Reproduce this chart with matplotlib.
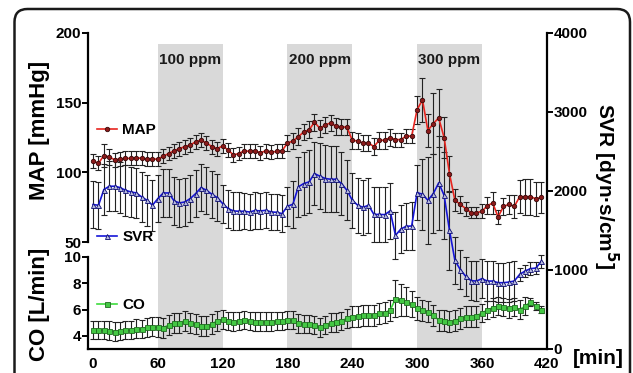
import matplotlib
matplotlib.use("Agg")
import matplotlib.pyplot as plt
from matplotlib.patches import FancyBboxPatch
import numpy as np

plt.rcParams['font.family'] = ['Liberation Sans', 'DejaVu Sans']
plt.rcParams['font.weight'] = 'bold'
plt.rcParams['mathtext.default'] = 'bf'

# ---------------- data ----------------
time_min = list(range(0, 420, 5))

map_mean = [108, 106.5, 112, 111, 109, 109.5, 110, 110, 110.5, 110, 109.5, 109.5,
            109.5, 111.5, 113.5, 115.5, 117, 118.5, 119.5, 122, 123, 121, 118.5, 117,
            119, 116, 112.5, 113.5, 115.5, 115, 115.5, 114, 115.5, 114.5, 115, 115.5,
            121, 122.5, 125.5, 129, 130.5, 136, 131.5, 134, 135.5, 133, 132.5, 132.5,
            123, 122.5, 121, 121, 118.5, 123, 123, 125, 123.5, 123.5, 126, 126,
            145, 152, 130, 135, 139, 125, 99, 80, 77, 74, 71, 71,
            72, 76, 78, 68, 75.5, 77, 75.5, 82.5, 82.5, 82.5, 81, 82]
map_sd = [5, 5, 8, 6, 5, 5, 5, 5, 5, 5, 5, 5,
          5, 5, 5, 5, 5, 5, 5, 5, 5, 5, 5, 5,
          5, 5, 5, 5, 5, 5, 5, 5, 5, 5, 5, 5,
          6, 6, 6, 6, 6, 6, 6, 6, 6, 6, 6, 6,
          6, 6, 6, 6, 6, 6, 6, 6, 5, 5, 5, 5,
          10, 16, 12, 22, 21, 15, 13, 8, 6, 5, 4, 4,
          5, 6, 8, 5, 6, 7, 8, 12, 13, 13, 12, 11]

svr_mean = [1825, 1816, 2015, 2057, 2057, 2040, 2006, 1985, 1972, 1921, 1879, 1816,
            1901, 1972, 1972, 1871, 1845, 1858, 1901, 1964, 2040, 2006, 1955, 1913,
            1837, 1774, 1744, 1740, 1740, 1730, 1750, 1744, 1752, 1731, 1727, 1710,
            1803, 1829, 2049, 2091, 2112, 2218, 2184, 2155, 2146, 2146, 2091, 2006,
            1880, 1816, 1790, 1816, 1700, 1700, 1697, 1744, 1435, 1515, 1550, 1553,
            1977, 1955, 1879, 1964, 2099, 1943, 1498, 1117, 1000, 915, 860, 855,
            885, 855, 855, 834, 834, 842, 855, 940, 982, 1012, 1020, 1105]
svr_sd = [300, 300, 320, 320, 320, 320, 320, 320, 320, 320, 320, 320,
          300, 300, 300, 300, 300, 300, 300, 300, 300, 300, 300, 300,
          240, 240, 240, 240, 230, 230, 230, 230, 230, 230, 230, 230,
          250, 300, 380, 400, 400, 400, 420, 420, 420, 420, 400, 380,
          350, 350, 350, 350, 350, 350, 350, 350, 300, 300, 300, 300,
          350, 450, 550, 500, 600, 550, 500, 300, 250, 250, 250, 250,
          250, 250, 250, 250, 250, 250, 250, 80, 80, 80, 80, 80]

co_mean = [4.45, 4.45, 4.45, 4.40, 4.33, 4.38, 4.45, 4.45, 4.55, 4.52, 4.65, 4.70,
           4.65, 4.62, 4.83, 5.0, 5.0, 5.15, 5.0, 4.9, 4.75, 4.77, 4.9, 5.15,
           5.25, 5.15, 5.08, 5.15, 5.2, 5.15, 5.08, 5.08, 5.08, 5.08, 5.13, 5.15,
           5.2, 5.2, 4.95, 4.9, 4.9, 4.83, 4.65, 4.83, 5.0, 5.02, 5.15, 5.33,
           5.45, 5.5, 5.58, 5.58, 5.58, 5.7, 5.75, 5.95, 6.8, 6.7, 6.58, 6.4,
           6.08, 5.95, 5.83, 5.58, 5.2, 5.15, 5.08, 5.15, 5.33, 5.45, 5.45, 5.5,
           5.75, 5.95, 6.15, 6.25, 6.2, 6.08, 6.2, 6.0, 6.25, 6.58, 6.25, 6.0]
co_sd = [0.7] * 12 + [0.75] * 12 + [0.7] * 12 + [0.7] * 12 + \
        [0.8, 0.8, 0.8, 0.8, 0.8, 0.8, 0.8, 0.8, 1.4, 1.2, 1.1, 1.0] + \
        [0.9] + [0.8] * 11 + [0.7] * 9 + [0.3] * 3

phase_starts = [60, 180, 300]
phase_ends = [120, 240, 360]
phase_labels = ['100 ppm', '200 ppm', '300 ppm']

map_ticks = [50, 100, 150, 200]
co_ticks = [4, 6, 8, 10]
svr_ticks = [0, 1000, 2000, 3000, 4000]
x_ticks = [0, 60, 120, 180, 240, 300, 360, 420]

# ---------------- layout ----------------
W_PX, H_PX = 633, 373
fig = plt.figure(figsize=(W_PX / 100, H_PX / 100), dpi=100)

def fx(px):
    return px / W_PX

def fy(py):
    return 1 - py / H_PX

x_left, x_right = 88, 546.7
top_y0, top_y1 = 33, 242
bot_y0, bot_y1 = 256.7, 348.5
XMIN, XMAX = -4.7, 420

L = fx(x_left)
Wd = fx(x_right) - fx(x_left)

# frame with rounded corners
frame = FancyBboxPatch((0.145, -0.6), 6.155, (H_PX - 9) / 100 + 0.6,
                       boxstyle="round,pad=0,rounding_size=0.13",
                       transform=fig.dpi_scale_trans, fill=False,
                       lw=1.8, ec='#1a1a1a')
fig.add_artist(frame)

# background axes for shading
ax_bg = fig.add_axes([L, fy(bot_y1), Wd, fy(top_y0) - fy(bot_y1)], zorder=0)
ax_bg.set_xlim(XMIN, XMAX)
ax_bg.set_ylim(0, 1)
ax_bg.axis('off')
shade_top = (bot_y1 - 44) / (bot_y1 - top_y0)
label_y = (bot_y1 - 60) / (bot_y1 - top_y0)
for s, e, lab in zip(phase_starts, phase_ends, phase_labels):
    ax_bg.axvspan(s, e, ymin=0, ymax=shade_top, color='#d9d9d9', lw=0)
    ax_bg.text((s + e) / 2, label_y, lab, ha='center', va='center',
               fontsize=11, fontweight='bold', color='#1a1a1a')

# MAP axes
ax_map = fig.add_axes([L, fy(top_y1), Wd, fy(top_y0) - fy(top_y1)], zorder=3)
ax_map.patch.set_visible(False)
ax_map.set_xlim(XMIN, XMAX)
ax_map.set_ylim(50, 200)
ax_map.errorbar(time_min, map_mean, yerr=map_sd, fmt='none', ecolor='#222222',
                elinewidth=0.8, capsize=2.2, capthick=0.8, zorder=2)
l_map, = ax_map.plot(time_min, map_mean, color='#e8251f', lw=1.2, marker='o',
                     ms=3.2, mfc='#8b1a1a', mec='#3a0a0a', mew=0.6, zorder=3,
                     label='MAP')
for sp in ['top', 'right', 'bottom']:
    ax_map.spines[sp].set_visible(False)
ax_map.spines['left'].set_linewidth(1.6)
ax_map.set_xticks([])
ax_map.set_yticks(map_ticks)
ax_map.tick_params(axis='y', length=4, width=1.4, pad=1, labelsize=11)

# CO axes
ax_co = fig.add_axes([L, fy(bot_y1), Wd, fy(bot_y0) - fy(bot_y1)], zorder=3)
ax_co.patch.set_visible(False)
ax_co.set_xlim(XMIN, XMAX)
ax_co.set_ylim(3.05, 10)
ax_co.errorbar(time_min, co_mean, yerr=co_sd, fmt='none', ecolor='#222222',
               elinewidth=0.8, capsize=2.2, capthick=0.8, zorder=2)
l_co, = ax_co.plot(time_min, co_mean, color='#3ddc3d', lw=1.2, marker='s',
                   ms=3.6, mfc='#44c844', mec='#1f6b1f', mew=0.6, zorder=3,
                   label='CO')
for sp in ['top', 'right']:
    ax_co.spines[sp].set_visible(False)
ax_co.spines['left'].set_linewidth(1.6)
ax_co.spines['bottom'].set_linewidth(1.6)
ax_co.set_yticks(co_ticks)
ax_co.set_xticks(x_ticks)
ax_co.tick_params(axis='y', length=4, width=1.4, pad=1, labelsize=11)
ax_co.tick_params(axis='x', length=0, pad=6, labelsize=11)

# SVR axes (right, full height)
ax_svr = fig.add_axes([L, fy(bot_y1), Wd, fy(top_y0) - fy(bot_y1)], zorder=2)
ax_svr.patch.set_visible(False)
ax_svr.set_xlim(XMIN, XMAX)
ax_svr.set_ylim(0, 4000)
ax_svr.errorbar(time_min, svr_mean, yerr=svr_sd, fmt='none', ecolor='#222222',
                elinewidth=0.8, capsize=2.2, capthick=0.8, zorder=2)
l_svr, = ax_svr.plot(time_min, svr_mean, color='#1515d8', lw=1.2, marker='^',
                     ms=3.6, mfc='#b8bce0', mec='#0a0a70', mew=0.6, zorder=3,
                     label='SVR')
for sp in ['top', 'left', 'bottom']:
    ax_svr.spines[sp].set_visible(False)
ax_svr.spines['right'].set_linewidth(1.6)
ax_svr.set_xticks([])
ax_svr.yaxis.tick_right()
ax_svr.set_yticks(svr_ticks)
ax_svr.tick_params(axis='y', length=4, width=1.4, pad=1, labelsize=11)

# legends
leg_kw = dict(frameon=False, loc='center left', bbox_transform=fig.transFigure,
              borderpad=0, borderaxespad=0, handlelength=1.3, handletextpad=0.35,
              prop={'weight': 'bold', 'size': 11})
ax_map.legend(handles=[l_map], bbox_to_anchor=(fx(97), fy(130)), **leg_kw)
ax_svr.legend(handles=[l_svr], bbox_to_anchor=(fx(97), fy(237)), **leg_kw)
ax_co.legend(handles=[l_co], bbox_to_anchor=(fx(97), fy(305)), **leg_kw)

# axis labels
fig.text(fx(40), fy(130), 'MAP [mmHg]', rotation=90, ha='center', va='center',
         fontsize=16, fontweight='bold')
fig.text(fx(40), fy(304), 'CO [L/min]', rotation=90, ha='center', va='center',
         fontsize=16, fontweight='bold')
fig.text(fx(606), fy(186), r'SVR [dyn·s/cm$^{5}$]', rotation=-90, ha='center',
         va='center', fontsize=15, fontweight='bold')
fig.text(fx(598), fy(359), '[min]', ha='center', va='center', fontsize=15,
         fontweight='bold')

fig.savefig('out.png', dpi=100)
